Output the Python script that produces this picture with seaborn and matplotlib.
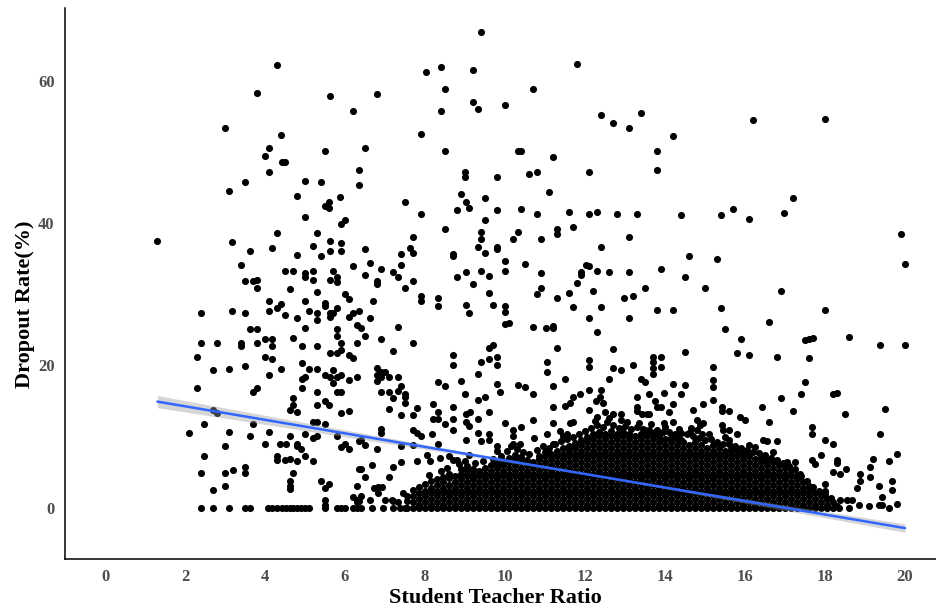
import numpy as np
import pandas as pd
import matplotlib
matplotlib.use("Agg")
import matplotlib.pyplot as plt
import seaborn as sns

# ---------------------------------------------------------------------------
# School-level observations: (student teacher ratio, dropout rate %)
# ---------------------------------------------------------------------------
high_dropout_schools = [
    (4.31, 62.2), (3.80, 58.3), (5.62, 57.8), (6.19, 55.7), (3.01, 53.4), (4.40, 52.3),
    (4.10, 50.6), (4.01, 49.4), (4.42, 48.6), (4.50, 48.6), (5.49, 50.1), (4.10, 47.1),
    (3.49, 45.7), (3.10, 44.5), (5.01, 45.9), (5.41, 45.7), (4.80, 43.8), (5.88, 43.6),
    (6.36, 47.4), (6.36, 45.4), (9.41, 66.8), (11.8, 62.4), (8.02, 61.2), (8.40, 61.9),
    (9.19, 61.5), (6.80, 58.1), (8.50, 58.8), (10.71, 58.8), (8.40, 55.7), (9.19, 57.0),
    (9.32, 56.0), (10.01, 56.6), (12.41, 55.2), (12.71, 54.1), (13.11, 53.4), (13.41, 55.4),
    (7.89, 52.5), (6.49, 50.6), (8.50, 50.1), (10.32, 50.1), (10.40, 50.1), (11.2, 49.3),
    (12.1, 47.2), (9.01, 47.1), (9.01, 46.4), (9.80, 46.4), (10.59, 46.9), (10.8, 47.2),
    (8.89, 44.0), (9.49, 43.5), (11.11, 44.3), (16.2, 54.4), (17.99, 54.6), (14.2, 52.2),
    (13.81, 50.1), (13.81, 47.4), (17.2, 43.5),
]

mid_dropout_schools = [
    (1.31, 37.5), (3.18, 37.3), (3.62, 36.0), (3.40, 34.1), (3.49, 31.9), (3.69, 31.9),
    (3.80, 32.0), (3.80, 30.9), (4.31, 38.6), (4.18, 36.5), (5.01, 40.9), (4.80, 35.5),
    (5.31, 38.6), (5.19, 36.8), (5.40, 35.3), (5.62, 37.5), (5.62, 36.0), (5.89, 37.2),
    (5.89, 36.0), (5.50, 42.4), (5.61, 43.0), (5.61, 42.1), (5.89, 39.9), (6.01, 40.4),
    (6.19, 34.0), (4.50, 33.3), (4.71, 33.3), (5.01, 32.9), (5.01, 32.4), (5.19, 33.3),
    (5.19, 32.0), (5.71, 33.3), (5.79, 32.4), (5.62, 32.0), (5.79, 31.7), (4.62, 30.7),
    (5.31, 30.3), (4.10, 29.1), (4.40, 28.6), (4.31, 28.0), (4.10, 27.6), (5.01, 29.0),
    (5.50, 28.8), (5.50, 28.3), (5.11, 27.7), (5.79, 28.1), (6.01, 30.0), (6.10, 29.3),
    (2.40, 27.4), (3.18, 27.7), (3.49, 27.4), (4.50, 27.0), (4.80, 26.6), (5.31, 27.3),
    (5.31, 26.3), (5.62, 27.4), (5.71, 27.3), (5.62, 26.8), (6.10, 26.8), (6.19, 27.3),
    (6.36, 27.6), (6.31, 25.6), (3.62, 25.1), (3.80, 25.1), (5.01, 25.3), (5.79, 25.1),
    (5.79, 24.1), (5.89, 23.2), (6.31, 23.2), (2.40, 23.2), (2.79, 23.2), (3.40, 23.2),
    (3.40, 22.7), (3.80, 23.2), (4.01, 23.7), (4.18, 23.7), (4.18, 22.7), (4.71, 23.9),
    (4.92, 22.7), (5.31, 22.7), (2.30, 21.2), (4.01, 21.2), (4.18, 20.9), (5.62, 21.7),
    (5.79, 21.7), (5.89, 22.2), (6.10, 21.4), (6.19, 21.0), (2.70, 19.3), (3.10, 19.5),
    (3.49, 19.9), (4.10, 18.6), (4.40, 19.5), (4.92, 20.3), (5.11, 19.5), (5.31, 19.5),
    (4.92, 18.1), (5.01, 18.3), (5.50, 18.6), (5.62, 18.3), (5.71, 19.3), (5.79, 18.3),
    (5.89, 18.6), (6.10, 18.0), (6.31, 18.3), (5.71, 17.5), (2.30, 16.8), (3.80, 16.8),
    (3.69, 16.2), (4.92, 16.8), (5.31, 16.2), (5.79, 16.2), (5.89, 16.2),
    (7.50, 43.0), (7.89, 41.3), (8.80, 41.8), (9.02, 43.0), (9.11, 42.1), (9.50, 40.4),
    (9.80, 41.8), (10.41, 42.0), (10.80, 41.3), (11.59, 41.6), (12.11, 41.3), (12.29, 41.6),
    (12.80, 41.3), (13.29, 41.3), (8.50, 39.2), (9.41, 38.7), (9.41, 37.7), (9.32, 36.6),
    (9.50, 35.8), (9.80, 36.6), (9.80, 36.3), (10.2, 37.8), (10.32, 38.7), (10.89, 37.7),
    (11.29, 39.1), (11.29, 38.4), (11.71, 39.5), (13.11, 38.0), (12.41, 36.6), (7.70, 38.0),
    (7.62, 36.5), (7.71, 35.8), (7.41, 35.6), (7.41, 34.1), (6.49, 36.4), (6.62, 34.4),
    (6.89, 33.6), (6.49, 32.7), (7.20, 33.1), (7.32, 32.4), (6.80, 31.9), (6.80, 31.4),
    (7.50, 30.9), (7.71, 31.9), (8.71, 35.6), (8.71, 35.3), (8.80, 32.4), (9.02, 33.1),
    (9.20, 31.4), (9.41, 33.2), (9.59, 32.6), (10.01, 34.6), (10.01, 33.2), (10.5, 34.3),
    (10.89, 32.9), (10.89, 30.9), (10.80, 30.0), (11.29, 29.5), (11.59, 30.2), (11.80, 31.5),
    (11.89, 33.1), (11.89, 32.7), (12.02, 34.1), (12.11, 34.0), (12.29, 33.2), (12.59, 33.1),
    (13.11, 33.1), (12.2, 30.5), (12.98, 29.5), (13.2, 29.8), (13.5, 30.9), (7.89, 29.8),
    (7.89, 29.0), (8.32, 29.5), (8.32, 28.3), (9.59, 30.2), (9.02, 28.5), (9.11, 27.3),
    (9.71, 28.5), (10.01, 28.4), (10.01, 27.5), (10.01, 25.8), (10.11, 26.0), (10.7, 25.4),
    (11.02, 25.2), (11.2, 25.5), (11.2, 25.2), (11.71, 28.2), (12.41, 28.2), (12.11, 26.6),
    (12.29, 24.7), (13.11, 26.6), (6.71, 29.0), (6.40, 25.2), (6.62, 26.6), (6.49, 24.1),
    (6.89, 23.7), (7.32, 25.4), (7.71, 23.2), (7.20, 22.0), (6.80, 19.6), (6.89, 19.1),
    (6.80, 18.6), (7.01, 19.1), (6.89, 18.4), (7.11, 18.3), (6.80, 17.8), (7.32, 18.3),
    (7.41, 17.1), (7.32, 16.4), (7.50, 16.0), (6.89, 16.2), (7.11, 16.2), (8.71, 21.4),
    (8.71, 20.0), (8.32, 17.6), (8.50, 17.1), (8.89, 17.8), (9.32, 18.8), (9.41, 20.5),
    (9.59, 20.9), (9.59, 22.4), (9.71, 22.9), (9.80, 21.2), (9.80, 20.0), (9.80, 17.4),
    (9.88, 16.2), (10.32, 17.2), (10.5, 16.9), (11.05, 20.5), (11.05, 19.0), (11.29, 22.5),
    (11.2, 17.1), (11.5, 18.1), (12.11, 20.7), (12.11, 19.8), (12.71, 22.3), (12.71, 19.6),
    (12.89, 19.4), (13.2, 20.0), (12.59, 18.1), (13.41, 18.1), (13.5, 17.6), (12.11, 16.5),
    (12.41, 16.5), (11.88, 16.0),
    (14.41, 41.1), (15.41, 41.1), (15.69, 42.0), (16.11, 40.6), (16.98, 41.4), (19.9, 38.4),
    (19.99, 34.2), (14.59, 35.3), (15.29, 34.9), (13.89, 33.6), (14.5, 32.4), (14.99, 30.9),
    (16.9, 30.5), (13.8, 27.8), (14.2, 27.8), (15.41, 28.0), (17.99, 27.8), (16.59, 26.1),
    (15.5, 25.1), (15.9, 23.7), (17.49, 23.5), (17.59, 23.7), (17.69, 23.9), (18.59, 24.0),
    (19.38, 22.9), (19.99, 22.9), (14.5, 21.8), (15.81, 21.7), (16.11, 21.5), (16.8, 21.2),
    (17.59, 21.0), (13.71, 21.2), (13.71, 20.5), (13.71, 19.6), (13.71, 18.8), (13.89, 21.2),
    (13.89, 19.8), (15.2, 19.8), (15.2, 17.9), (15.2, 16.9), (14.2, 17.4), (14.5, 17.2),
    (17.49, 17.6), (13.59, 16.0), (13.98, 16.1), (14.41, 16.0), (17.41, 16.0), (18.21, 16.0),
    (18.3, 16.1),
]

low_dropout_schools = [
    (4.71, 15.4), (5.50, 15.0), (5.61, 14.4), (5.31, 14.4), (4.71, 14.4), (4.62, 13.7),
    (4.80, 13.4), (5.89, 13.3), (6.10, 13.6), (2.71, 13.7), (2.79, 13.3), (2.48, 11.8),
    (3.71, 11.8), (2.09, 10.5), (3.10, 10.6), (3.62, 10.1), (4.10, 10.7), (4.62, 10.1),
    (5.01, 10.3), (5.21, 12.1), (5.31, 12.1), (5.50, 11.8), (5.19, 9.8), (5.31, 10.1),
    (5.79, 10.1), (6.36, 9.4), (3.01, 8.6), (4.01, 9.0), (4.38, 9.0), (4.52, 9.0),
    (4.80, 9.0), (4.80, 8.6), (4.90, 8.3), (6.0, 9.0), (5.89, 8.5), (6.10, 8.2),
    (2.48, 7.2), (4.31, 7.2), (4.31, 6.7), (4.50, 6.7), (4.62, 6.9), (4.80, 6.5),
    (5.01, 7.2), (5.21, 6.5), (6.36, 5.5), (2.40, 4.9), (3.01, 4.9), (3.19, 5.3),
    (3.49, 5.7), (3.49, 4.9), (4.71, 4.9), (4.62, 3.8), (4.62, 3.0), (4.62, 2.6),
    (5.41, 3.8), (5.50, 2.8), (5.61, 3.3), (6.31, 3.0), (2.71, 2.5), (3.01, 3.0),
    (5.50, 1.1), (5.50, 0.4), (6.19, 1.5), (6.31, 1.1), (6.83, 2.95), (6.92, 2.95),
    (6.83, 2.0), (7.17, 1.1), (7.33, 0.85), (7.46, 2.0), (6.4, 1.7), (6.35, 0.9),
    (7.20, 15.4), (7.50, 15.6), (7.50, 14.7), (7.41, 13.0), (7.11, 13.9), (7.71, 13.0),
    (7.80, 14.0), (8.20, 14.6), (8.32, 13.5), (8.20, 12.5), (8.32, 12.5), (8.71, 14.2),
    (8.71, 12.5), (8.71, 10.9), (8.50, 11.8), (9.0, 15.9), (9.32, 15.1), (9.50, 15.6),
    (9.13, 13.5), (9.02, 13.1), (9.02, 12.0), (9.11, 11.5), (9.32, 12.5), (9.59, 13.4),
    (10.01, 11.9), (10.41, 11.3), (10.2, 10.9), (10.71, 12.3), (10.69, 16.0), (11.21, 14.2),
    (11.21, 11.9), (11.5, 14.3), (11.63, 14.7), (11.71, 15.6), (12.38, 15.6), (12.46, 14.7),
    (12.28, 15.0), (11.63, 11.9), (11.71, 12.0), (12.11, 13.7), (12.29, 12.8), (12.51, 13.4),
    (12.7, 13.2), (12.89, 13.2), (12.89, 12.3), (13.29, 15.6), (13.29, 14.2), (13.29, 13.6),
    (13.54, 13.2), (6.89, 10.5), (6.89, 11.1), (7.71, 10.9), (7.80, 10.5), (7.89, 10.1),
    (8.18, 10.3), (6.4, 9.5), (6.49, 8.8), (6.8, 8.2), (7.41, 8.6), (7.71, 8.8),
    (8.32, 9.0), (9.02, 9.5), (9.41, 9.3), (9.59, 9.5), (9.59, 10.3), (9.32, 10.5),
    (9.80, 8.6), (9.80, 7.9), (10.2, 10.0), (10.38, 9.0), (10.2, 9.0), (10.72, 9.8),
    (11.05, 10.3), (11.21, 9.0), (11.38, 10.8), (11.46, 10.0), (6.68, 6.0), (6.4, 5.4),
    (6.49, 4.3), (7.2, 5.7), (7.41, 6.4), (7.11, 4.3), (6.31, 0.8), (6.73, 2.7),
    (6.62, 1.1), (7.01, 1.1), (7.2, 0.9), (7.80, 6.5), (8.06, 7.4), (8.13, 6.5),
    (8.37, 7.0), (8.59, 7.3), (8.71, 6.7), (8.81, 6.7), (9.11, 7.4),
    (13.74, 15.0), (13.81, 14.2), (13.89, 14.2), (14.2, 14.6), (13.43, 13.2), (13.59, 13.2),
    (14.1, 13.4), (13.98, 11.9), (14.2, 12.0), (14.71, 13.7), (14.96, 14.6), (15.2, 15.1),
    (15.42, 14.2), (15.42, 13.6), (15.59, 13.6), (14.81, 12.3), (14.88, 11.6), (14.96, 11.9),
    (14.81, 10.9), (14.93, 10.4), (15.88, 12.8), (16.0, 12.3), (15.42, 11.6), (15.46, 10.9),
    (15.59, 10.9), (15.79, 10.4), (13.5, 10.9), (13.71, 10.4), (13.79, 10.9), (13.88, 9.5),
    (14.17, 10.2), (14.29, 10.0), (14.41, 9.5), (14.41, 10.5), (14.54, 10.4), (14.63, 10.6),
    (16.09, 8.8), (16.46, 9.5), (16.56, 9.3), (16.79, 9.3), (15.59, 9.5), (17.04, 6.4),
    (17.25, 6.4), (17.38, 4.8), (17.68, 11.4), (17.68, 10.3), (16.9, 15.4), (17.2, 13.6),
    (16.42, 14.2), (16.59, 12.1), (18.51, 13.2), (19.51, 13.8), (19.38, 10.3), (18.0, 9.5),
    (18.21, 9.0), (17.68, 6.7), (17.9, 7.4), (17.76, 6.1), (18.3, 6.7), (18.3, 6.3),
    (18.53, 5.5), (18.21, 5.0), (18.38, 4.8), (18.88, 4.8), (18.88, 3.7), (19.21, 6.8),
    (19.12, 5.7), (19.12, 4.3), (19.6, 6.5), (19.81, 7.6), (19.68, 3.8), (19.68, 2.5),
    (19.81, 0.5), (19.34, 3.0), (19.43, 1.5), (19.34, 0.4), (19.43, 0.4), (19.09, 0.3),
    (18.85, 0.4), (18.68, 1.1), (18.8, 2.7), (18.0, 3.3), (18.0, 2.4), (18.38, 1.1),
    (18.54, 1.1),
]

# Loosely spread schools just above the crowded band
band_edge_schools = [
    (8.1, 4.6), (8.4, 5.1), (8.55, 5.6), (8.85, 6.1), (9.0, 6.6), (9.25, 6.3),
    (9.45, 6.5), (9.7, 6.9), (9.9, 7.3), (10.05, 7.9), (10.3, 8.2), (10.45, 7.8),
    (10.6, 7.5), (10.8, 8.1), (10.95, 8.6), (11.1, 8.4), (11.25, 8.9), (11.4, 9.3),
    (11.55, 9.6), (11.7, 9.9), (11.85, 10.4), (12.0, 10.8), (12.15, 11.2), (12.3, 11.6),
    (12.45, 11.3), (12.55, 12.0), (12.7, 11.6), (12.85, 11.2), (13.0, 11.5), (13.15, 11.0),
    (13.3, 11.3), (13.45, 11.1), (13.6, 10.9), (13.75, 10.6), (13.95, 10.7), (14.1, 10.6),
    (14.25, 10.3), (14.7, 10.0), (14.85, 9.8), (15.0, 9.5), (15.15, 9.6), (15.3, 9.2),
    (15.45, 9.0), (15.6, 8.9), (15.75, 8.7), (15.9, 8.4), (16.05, 8.1), (16.2, 7.8),
    (16.35, 7.7), (16.5, 7.4), (16.65, 7.0), (16.8, 6.7), (16.95, 6.3), (17.1, 5.9),
    (17.25, 5.5), (17.4, 4.4), (17.55, 3.7), (17.7, 2.9), (17.85, 2.4), (18.0, 1.9),
    (18.15, 1.4), (18.3, 0.3), (10.15, 8.7), (11.55, 10.3), (12.25, 12.2), (12.6, 12.6),
    (13.05, 12.1), (13.35, 11.9), (13.65, 11.7), (14.0, 11.4), (14.35, 11.0), (14.65, 11.2),
    (15.1, 10.3), (15.5, 9.9), (16.25, 8.5), (16.7, 7.8),
]

# Schools reporting no dropouts at all
zero_dropout_ratios = [
    2.40, 2.71, 3.10, 3.49, 3.62, 4.07, 4.17, 4.31, 4.42, 4.52, 4.62, 4.71, 4.80, 4.90,
    5.01, 5.11, 5.50, 5.79, 5.89, 6.00, 6.19, 6.31, 6.40, 6.68, 6.96, 7.20, 7.37, 7.50,
    18.35, 18.60, 19.60,
]

# The crowded band of typical schools (ratio 7.5-18), listed column by column
typical_school_columns = {
    7.55: [0, 0.9, 1.7],
    7.70: [0, 0.8, 1.6, 2.5],
    7.85: [0, 0.4, 1.2, 2.0, 2.9],
    8.00: [0, 0.8, 1.6, 2.4, 3.3],
    8.15: [0, 0.4, 1.2, 2.0, 2.8, 3.7],
    8.30: [0, 0.8, 1.6, 2.4, 3.2, 4.0],
    8.45: [0, 0.4, 1.2, 2.0, 2.8, 3.6, 4.3],
    8.60: [0, 0.8, 1.6, 2.4, 3.2, 4.1, 4.7],
    8.75: [0, 0.4, 1.2, 2.0, 2.8, 3.6, 4.4],
    8.90: [0, 0.8, 1.6, 2.4, 3.2, 4.0, 4.8, 5.4],
    9.05: [0, 0.4, 1.2, 2.0, 2.8, 3.6, 4.4, 5.2, 5.9],
    9.20: [0, 0.8, 1.6, 2.4, 3.2, 4.0, 4.8, 5.5],
    9.35: [0, 0.4, 1.2, 2.0, 2.8, 3.6, 4.4, 5.2],
    9.50: [0, 0.8, 1.6, 2.4, 3.2, 4.0, 4.8, 5.6],
    9.65: [0, 0.4, 1.2, 2.0, 2.8, 3.6, 4.4, 5.2, 6.0],
    9.80: [0, 0.8, 1.6, 2.4, 3.2, 4.0, 4.8, 5.6, 6.3],
    9.95: [0, 0.4, 1.2, 2.0, 2.8, 3.6, 4.4, 5.2, 6.0, 6.6],
    10.10: [0, 0.8, 1.6, 2.4, 3.2, 4.0, 4.8, 5.6, 6.4, 7.0],
    10.25: [0, 0.4, 1.2, 2.0, 2.8, 3.6, 4.4, 5.2, 6.0, 6.8, 7.4],
    10.40: [0, 0.8, 1.6, 2.4, 3.2, 4.0, 4.8, 5.6, 6.4, 7.1],
    10.55: [0, 0.4, 1.2, 2.0, 2.8, 3.6, 4.4, 5.2, 6.0, 6.7],
    10.70: [0, 0.8, 1.6, 2.4, 3.2, 4.0, 4.8, 5.6, 6.4],
    10.85: [0, 0.4, 1.2, 2.0, 2.8, 3.6, 4.4, 5.2, 6.0, 6.8, 7.3],
    11.00: [0, 0.8, 1.6, 2.4, 3.2, 4.0, 4.8, 5.6, 6.4, 7.2, 7.8],
    11.15: [0, 0.4, 1.2, 2.0, 2.8, 3.6, 4.4, 5.2, 6.0, 6.8, 7.6],
    11.30: [0, 0.8, 1.6, 2.4, 3.2, 4.0, 4.8, 5.6, 6.4, 7.2, 8.0],
    11.45: [0, 0.4, 1.2, 2.0, 2.8, 3.6, 4.4, 5.2, 6.0, 6.8, 7.6, 8.4],
    11.60: [0, 0.8, 1.6, 2.4, 3.2, 4.0, 4.8, 5.6, 6.4, 7.2, 8.0, 8.7],
    11.75: [0, 0.4, 1.2, 2.0, 2.8, 3.6, 4.4, 5.2, 6.0, 6.8, 7.6, 8.4, 9.1],
    11.90: [0, 0.8, 1.6, 2.4, 3.2, 4.0, 4.8, 5.6, 6.4, 7.2, 8.0, 8.8, 9.5],
    12.05: [0, 0.4, 1.2, 2.0, 2.8, 3.6, 4.4, 5.2, 6.0, 6.8, 7.6, 8.4, 9.2, 9.9],
    12.20: [0, 0.8, 1.6, 2.4, 3.2, 4.0, 4.8, 5.6, 6.4, 7.2, 8.0, 8.8, 9.6, 10.3],
    12.35: [0, 0.4, 1.2, 2.0, 2.8, 3.6, 4.4, 5.2, 6.0, 6.8, 7.6, 8.4, 9.2, 10.0, 10.7],
    12.50: [0, 0.8, 1.6, 2.4, 3.2, 4.0, 4.8, 5.6, 6.4, 7.2, 8.0, 8.8, 9.6, 10.4],
    12.65: [0, 0.4, 1.2, 2.0, 2.8, 3.6, 4.4, 5.2, 6.0, 6.8, 7.6, 8.4, 9.2, 10.0, 10.8],
    12.80: [0, 0.8, 1.6, 2.4, 3.2, 4.0, 4.8, 5.6, 6.4, 7.2, 8.0, 8.8, 9.6, 10.4],
    12.95: [0, 0.4, 1.2, 2.0, 2.8, 3.6, 4.4, 5.2, 6.0, 6.8, 7.6, 8.4, 9.2, 10.0, 10.6],
    13.10: [0, 0.8, 1.6, 2.4, 3.2, 4.0, 4.8, 5.6, 6.4, 7.2, 8.0, 8.8, 9.6, 10.3],
    13.25: [0, 0.4, 1.2, 2.0, 2.8, 3.6, 4.4, 5.2, 6.0, 6.8, 7.6, 8.4, 9.2, 10.0],
    13.40: [0, 0.8, 1.6, 2.4, 3.2, 4.0, 4.8, 5.6, 6.4, 7.2, 8.0, 8.8, 9.6, 10.4],
    13.55: [0, 0.4, 1.2, 2.0, 2.8, 3.6, 4.4, 5.2, 6.0, 6.8, 7.6, 8.4, 9.2, 10.0],
    13.70: [0, 0.8, 1.6, 2.4, 3.2, 4.0, 4.8, 5.6, 6.4, 7.2, 8.0, 8.8, 9.6],
    13.85: [0, 0.4, 1.2, 2.0, 2.8, 3.6, 4.4, 5.2, 6.0, 6.8, 7.6, 8.4, 9.2, 10.0],
    14.00: [0, 0.8, 1.6, 2.4, 3.2, 4.0, 4.8, 5.6, 6.4, 7.2, 8.0, 8.8, 9.6],
    14.15: [0, 0.4, 1.2, 2.0, 2.8, 3.6, 4.4, 5.2, 6.0, 6.8, 7.6, 8.4, 9.2, 9.8],
    14.30: [0, 0.8, 1.6, 2.4, 3.2, 4.0, 4.8, 5.6, 6.4, 7.2, 8.0, 8.8, 9.6],
    14.45: [0, 0.4, 1.2, 2.0, 2.8, 3.6, 4.4, 5.2, 6.0, 6.8, 7.6, 8.4, 9.2],
    14.60: [0, 0.8, 1.6, 2.4, 3.2, 4.0, 4.8, 5.6, 6.4, 7.2, 8.0, 8.8],
    14.75: [0, 0.4, 1.2, 2.0, 2.8, 3.6, 4.4, 5.2, 6.0, 6.8, 7.6, 8.4, 9.2],
    14.90: [0, 0.8, 1.6, 2.4, 3.2, 4.0, 4.8, 5.6, 6.4, 7.2, 8.0, 8.8],
    15.05: [0, 0.4, 1.2, 2.0, 2.8, 3.6, 4.4, 5.2, 6.0, 6.8, 7.6, 8.4],
    15.20: [0, 0.8, 1.6, 2.4, 3.2, 4.0, 4.8, 5.6, 6.4, 7.2, 8.0, 8.8],
    15.35: [0, 0.4, 1.2, 2.0, 2.8, 3.6, 4.4, 5.2, 6.0, 6.8, 7.6, 8.4],
    15.50: [0, 0.8, 1.6, 2.4, 3.2, 4.0, 4.8, 5.6, 6.4, 7.2, 8.0],
    15.65: [0, 0.4, 1.2, 2.0, 2.8, 3.6, 4.4, 5.2, 6.0, 6.8, 7.6, 8.2],
    15.80: [0, 0.8, 1.6, 2.4, 3.2, 4.0, 4.8, 5.6, 6.4, 7.2, 8.0],
    15.95: [0, 0.4, 1.2, 2.0, 2.8, 3.6, 4.4, 5.2, 6.0, 6.8, 7.6],
    16.10: [0, 0.8, 1.6, 2.4, 3.2, 4.0, 4.8, 5.6, 6.4, 7.2],
    16.25: [0, 0.4, 1.2, 2.0, 2.8, 3.6, 4.4, 5.2, 6.0, 6.8],
    16.40: [0, 0.8, 1.6, 2.4, 3.2, 4.0, 4.8, 5.6, 6.4, 7.0],
    16.55: [0, 0.4, 1.2, 2.0, 2.8, 3.6, 4.4, 5.2, 6.0, 6.7],
    16.70: [0, 0.8, 1.6, 2.4, 3.2, 4.0, 4.8, 5.6, 6.4],
    16.85: [0, 0.4, 1.2, 2.0, 2.8, 3.6, 4.4, 5.2, 6.0],
    17.00: [0, 0.8, 1.6, 2.4, 3.2, 4.0, 4.8, 5.6],
    17.15: [0, 0.4, 1.2, 2.0, 2.8, 3.6, 4.4, 5.1],
    17.30: [0, 0.8, 1.6, 2.4, 3.2, 4.0, 4.6],
    17.45: [0, 0.4, 1.2, 2.0, 2.8, 3.6],
    17.60: [0, 0.8, 1.6, 2.4, 3.0],
    17.75: [0, 0.4, 1.2, 2.0],
    17.90: [0, 0.8, 1.6],
    18.05: [0, 0.4, 1.2],
    18.20: [0, 0.8],
}

# Fitted linear trend and its 95% confidence band
fit_ratio = [1.31, 20.0]
fit_dropout = [14.90, -2.87]
band_ratio = [1.31, 4.0, 8.0, 10.0, 12.0, 14.0, 16.0, 18.0, 20.0]
band_lower = [14.05, 11.70, 8.20, 6.44, 4.63, 2.67, 0.63, -1.42, -3.47]
band_upper = [15.75, 12.98, 8.88, 6.84, 4.83, 2.99, 1.23, -0.52, -2.27]

x_ticks = [0, 2, 4, 6, 8, 10, 12, 14, 16, 18, 20]
y_ticks = [0, 20, 40, 60]

# ---------------------------------------------------------------------------
rows = (list(high_dropout_schools) + list(mid_dropout_schools)
        + list(low_dropout_schools) + list(band_edge_schools))
rows += [(r, 0.0) for r in zero_dropout_ratios]
for ratio, rates in typical_school_columns.items():
    rows += [(ratio, d) for d in rates]
schools = pd.DataFrame(rows, columns=["ratio", "dropout"])
fit = pd.DataFrame({"ratio": fit_ratio, "dropout": fit_dropout})

sns.set_theme(style="white")
plt.rcParams["font.family"] = ["Liberation Serif", "DejaVu Serif"]
plt.rcParams["font.weight"] = "bold"

fig = plt.figure(figsize=(9.37, 6.12), dpi=100)
ax = fig.add_axes([65 / 937, 53.3 / 612, 872 / 937, 550.7 / 612])

sns.scatterplot(data=schools, x="ratio", y="dropout", color="black", s=26,
                linewidth=0, legend=False, ax=ax, zorder=2)
ax.fill_between(band_ratio, band_lower, band_upper, color="#999999",
                alpha=0.4, linewidth=0, zorder=3)
sns.lineplot(data=fit, x="ratio", y="dropout", color="#3366FF", linewidth=1.8,
             ax=ax, zorder=4)

ax.set_xlim(-1.0, 20.8)
ax.set_ylim(-7.17, 70.2)
ax.set_xticks(x_ticks)
ax.set_yticks(y_ticks)
ax.set_xticklabels([str(t) for t in x_ticks])
ax.set_yticklabels([str(t) for t in y_ticks])

sns.despine(ax=ax)
for side in ("left", "bottom"):
    ax.spines[side].set_color("black")
    ax.spines[side].set_linewidth(1.1)

ax.tick_params(axis="both", which="major", direction="out", length=4, width=1,
               color="#333333", labelcolor="#4D4D4D", labelsize=12)
ax.tick_params(axis="x", pad=3.5)
ax.tick_params(axis="y", pad=3.5)
for lbl in ax.get_xticklabels() + ax.get_yticklabels():
    lbl.set_fontweight("bold")

ax.set_xlabel("Student Teacher Ratio", fontsize=16, fontweight="bold", color="black")
ax.set_ylabel("Dropout Rate(%)", fontsize=16, fontweight="bold", color="black")
ax.xaxis.set_label_coords(0.494, -0.053)
ax.yaxis.set_label_coords(-0.0344, 0.4625)

fig.savefig("out.png", dpi=100, facecolor="white")
